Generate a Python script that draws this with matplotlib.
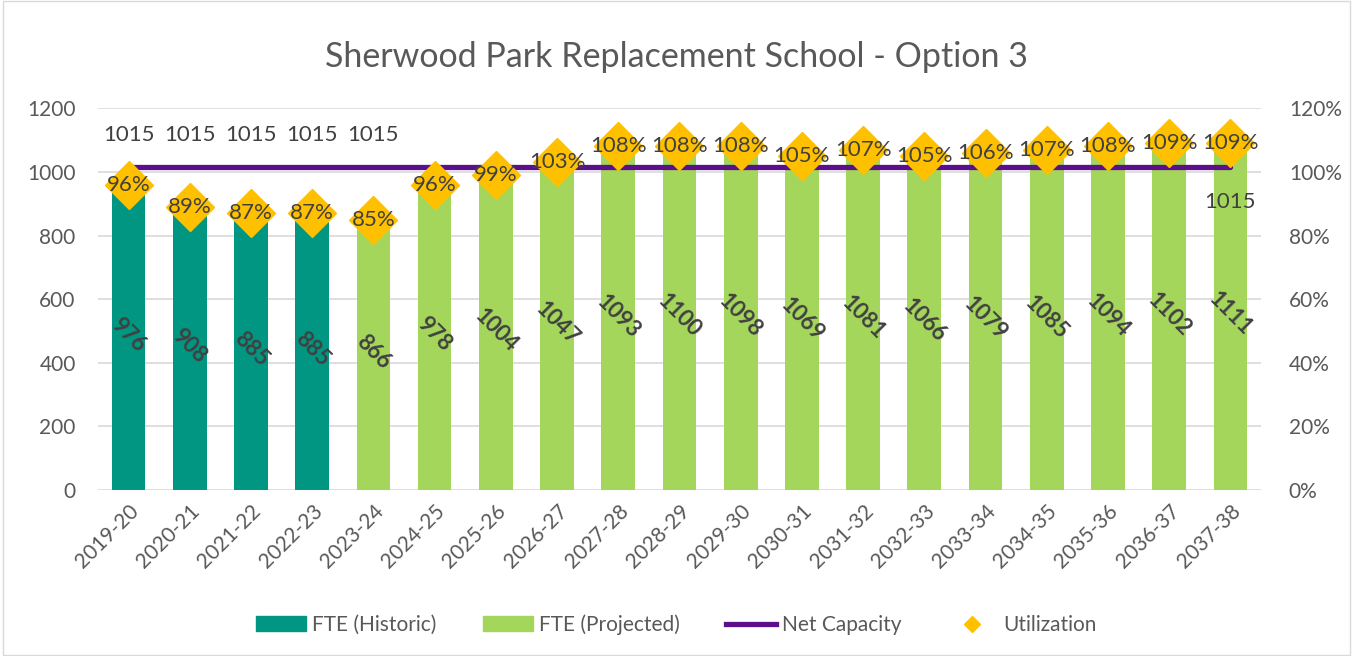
import numpy as np
import matplotlib
matplotlib.use("Agg")
import matplotlib.pyplot as plt
from matplotlib.lines import Line2D
from matplotlib.patches import Patch

plt.rcParams['font.family'] = ['Lato', 'DejaVu Sans']

# ---- data ----
years = ['2019-20', '2020-21', '2021-22', '2022-23', '2023-24', '2024-25', '2025-26',
         '2026-27', '2027-28', '2028-29', '2029-30', '2030-31', '2031-32', '2032-33',
         '2033-34', '2034-35', '2035-36', '2036-37', '2037-38']
fte = [976, 908, 885, 885, 866, 978, 1004, 1047, 1093, 1100, 1098, 1069, 1081,
       1066, 1079, 1085, 1094, 1102, 1111]
n_historic = 4
capacity = [1015] * 19
utilization = [96, 89, 87, 87, 85, 96, 99, 103, 108, 108, 108, 105, 107, 105,
               106, 107, 108, 109, 109]
cap_label_idx = [0, 1, 2, 3, 4, 18]

teal = '#009681'
green = '#A5D65C'
purple = '#5C0F8B'
gold = '#FFC000'
txt = '#404040'
grid = '#D9D9D9'

fig = plt.figure(figsize=(13.53, 6.56), dpi=100)
ax = fig.add_axes([0.0724, 0.253, 0.8596, 0.582])
ax2 = ax.twinx()

x = np.arange(len(years))
colors = [teal if i < n_historic else green for i in x]
ax.bar(x, fte, width=0.55, color=colors, zorder=2)
ax.plot(x, capacity, color=purple, lw=3.8, solid_capstyle='round', zorder=3)

# bar value labels, rotated
for i, v in enumerate(fte):
    ax.text(i, v / 2, str(v), rotation=-45, ha='center', va='center',
            fontsize=16, fontweight='bold', color=txt, zorder=5,
            rotation_mode='anchor')

# capacity labels
for i in cap_label_idx:
    yy = 1115 if i < 18 else 905
    ax.text(i, yy, str(capacity[i]), ha='center', va='center', fontsize=16,
            color=txt, zorder=5)

ax.set_xlim(-0.5, len(years) - 0.5)
ax.set_ylim(0, 1200)
ax.set_yticks(range(0, 1201, 200))
ax.grid(axis='y', color=grid, lw=1.2, zorder=0)
ax.set_axisbelow(True)
ax.set_xticks(x)
ax.set_xticklabels(years, rotation=45, ha='right', rotation_mode='anchor')
for a in (ax, ax2):
    for s in a.spines.values():
        s.set_visible(False)
    a.tick_params(length=0, labelsize=15, labelcolor='#595959')
ax.tick_params(axis='y', pad=16)
ax.tick_params(axis='x', pad=8)

ax2.set_ylim(0, 1.2)
ax2.set_yticks(np.arange(0, 1.21, 0.2))
ax2.set_yticklabels([f'{int(round(t * 100))}%' for t in np.arange(0, 1.21, 0.2)])
ax2.tick_params(axis='y', pad=20)
util = np.array(utilization) / 100
ax2.plot(x, util, linestyle='none', marker='D', ms=24, color=gold, zorder=4)
for i, u in enumerate(utilization):
    ax2.text(i, u / 100, f'{u}%', ha='center', va='center', fontsize=16,
             color=txt, zorder=6)

fig.text(0.5, 0.913, 'Sherwood Park Replacement School - Option 3', ha='center',
         va='center', fontsize=24.5, color='#595959')

handles = [Patch(color=teal), Patch(color=green),
           Line2D([], [], color=purple, lw=3.8),
           Line2D([], [], ls='none', marker='D', color=gold, ms=8)]
labels = ['FTE (Historic)', 'FTE (Projected)', 'Net Capacity', 'Utilization']
leg = fig.legend(handles, labels, loc='center', bbox_to_anchor=(0.5, 0.048), ncol=4,
                 frameon=False, fontsize=15, handlelength=2.4, handletextpad=0.3,
                 columnspacing=2.2)
for t in leg.get_texts():
    t.set_color('#595959')

fig.patches.append(plt.Rectangle((0.002, 0.002), 0.996, 0.996, transform=fig.transFigure,
                                 fill=False, edgecolor='#D9D9D9', lw=1))

fig.savefig('out.png', dpi=100)
